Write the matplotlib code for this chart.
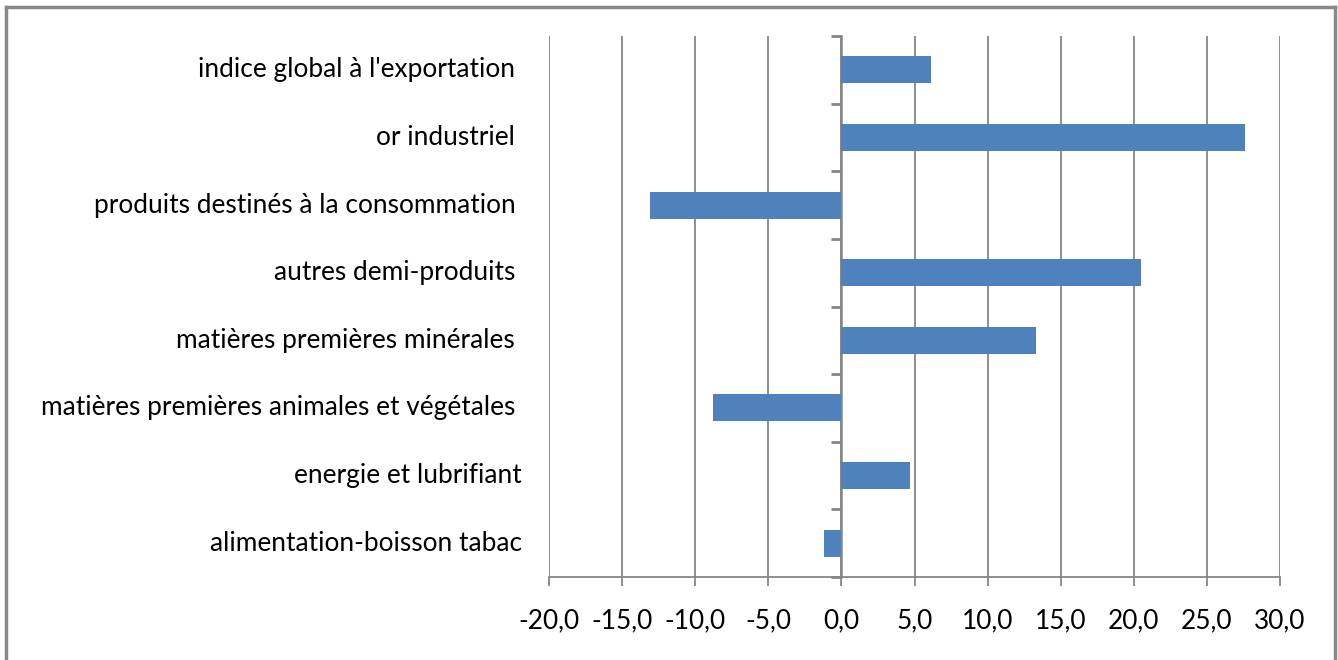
import matplotlib
matplotlib.use('Agg')
import matplotlib.pyplot as plt
import matplotlib.transforms as mtransforms
from matplotlib.lines import Line2D

# categories bottom -> top
categories = ['alimentation-boisson tabac',
              'energie et lubrifiant',
              'matières premières animales et végétales ',
              'matières premières minérales ',
              'autres demi-produits ',
              'produits destinés à la consommation ',
              'or industriel ',
              "indice global à l'exportation "]
values = [-1.2, 4.7, -8.8, 13.3, 20.5, -13.1, 27.6, 6.1]
xticks = [-20, -15, -10, -5, 0, 5, 10, 15, 20, 25, 30]
xticklabels = ['{:.1f}'.format(v).replace('.', ',') for v in xticks]

plt.rcParams['font.family'] = ['Lato', 'DejaVu Sans']
bar_color = '#4F81BD'
grid_color = '#868686'
fs = 18.9

fig = plt.figure(figsize=(13.38, 6.6), dpi=100)
ax = fig.add_axes([549/1338, 1 - 577/660, (1280-549)/1338, (577-36)/660])

ypos = list(range(len(categories)))
ax.barh(ypos, values, height=0.4, color=bar_color, zorder=3)

ax.set_xlim(-20, 30)
ax.set_ylim(-0.5, len(categories) - 0.5)

# vertical gridlines
ax.set_xticks(xticks)
ax.set_xticklabels(xticklabels, fontsize=fs)
ax.xaxis.grid(True, color=grid_color, linewidth=1.3, zorder=0)
ax.tick_params(axis='x', length=6.5, width=1.3, color=grid_color, pad=16)

for s in ['top', 'right', 'left']:
    ax.spines[s].set_visible(False)
ax.spines['bottom'].set_color(grid_color)
ax.spines['bottom'].set_linewidth(1.3)

# category axis sits at zero
ax.spines['left'].set_visible(True)
ax.spines['left'].set_position(('data', 0))
ax.spines['left'].set_color(grid_color)
ax.spines['left'].set_linewidth(1.8)
ax.set_yticks([y - 0.5 for y in ypos] + [len(categories) - 0.5])
ax.set_yticklabels([])
ax.tick_params(axis='y', length=7.5, width=2, color=grid_color, direction='out')

trans = mtransforms.blended_transform_factory(ax.transAxes, ax.transData)
for y, lab in zip(ypos, categories):
    ax.text(-27/731, y, lab, transform=trans, ha='right', va='center',
            fontsize=fs, color='#000000')

# chart frame
fig.add_artist(Line2D([6/1338, 6/1338], [0, 1 - 7/660], color='#898989', lw=2.5))
fig.add_artist(Line2D([6/1338, 1335/1338], [1 - 7/660, 1 - 7/660], color='#898989', lw=2.5))
fig.add_artist(Line2D([1335/1338, 1335/1338], [0, 1 - 7/660], color='#898989', lw=2.5))

fig.savefig('out.png', dpi=100)
